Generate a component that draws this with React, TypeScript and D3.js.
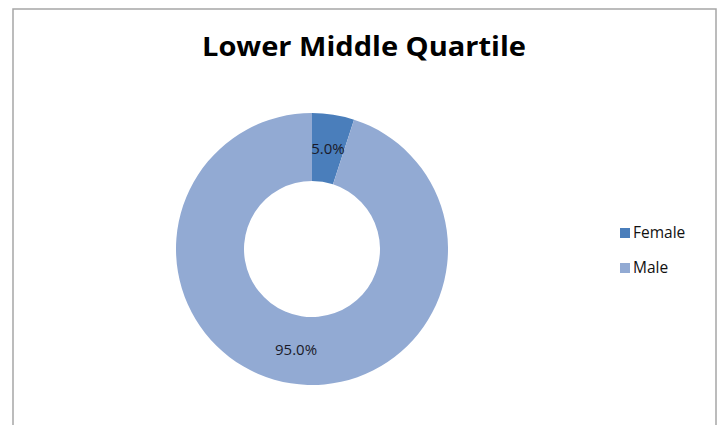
import React from "react";
import * as d3 from "d3";

const title = "Lower Middle Quartile";
const categories = ["Female", "Male"];
const values = [5.0, 95.0];
const colors = ["#4A7EBB", "#92AAD3"];

const W = 720;
const H = 425;

export default function App() {
  const cx = 312;
  const cy = 249;
  const outerR = 136;
  const innerR = 68;

  const pie = d3
    .pie<number>()
    .sort(null)
    .value((d) => d)
    .startAngle(0)
    .endAngle(2 * Math.PI);
  const arcs = pie(values);
  const arc = d3.arc<d3.PieArcDatum<number>>().innerRadius(innerR).outerRadius(outerR);
  const labelArc = d3
    .arc<d3.PieArcDatum<number>>()
    .innerRadius((innerR + outerR) / 2)
    .outerRadius((innerR + outerR) / 2);
  const total = d3.sum(values);
  const fmt = d3.format(".1%");

  const legendY = d3.scalePoint<string>().domain(categories).range([233, 268]);

  return (
    <svg
      width={W}
      height={H}
      style={{ position: "absolute", left: 0, top: 0, background: "#fff" }}
      fontFamily="'Open Sans', sans-serif"
    >
      <rect x={13} y={9} width={703} height={440} fill="#fff" stroke="#a6a6a6" strokeWidth={1.5} />
      <text
        x={364}
        y={56}
        textAnchor="middle"
        fontSize={26}
        fontWeight="bold"
        fill="#000"
        textLength={324}
        lengthAdjust="spacingAndGlyphs"
      >
        {title}
      </text>
      <g transform={`translate(${cx},${cy})`}>
        {arcs.map((a, i) => (
          <path key={categories[i]} d={arc(a) || ""} fill={colors[i]} />
        ))}
        {arcs.map((a, i) => {
          const [lx, ly] = labelArc.centroid(a);
          return (
            <text
              key={"l" + i}
              x={lx}
              y={ly}
              dy="0.35em"
              textAnchor="middle"
              fontSize={15}
              fill="#1a1a2a"
            >
              {fmt(values[i] / total)}
            </text>
          );
        })}
      </g>
      {categories.map((c, i) => (
        <g key={c}>
          <rect x={620} y={(legendY(c) as number) - 5} width={10} height={10} fill={colors[i]} />
          <text x={633} y={legendY(c) as number} dy="0.35em" fontSize={15.5} fill="#111">
            {c}
          </text>
        </g>
      ))}
    </svg>
  );
}
